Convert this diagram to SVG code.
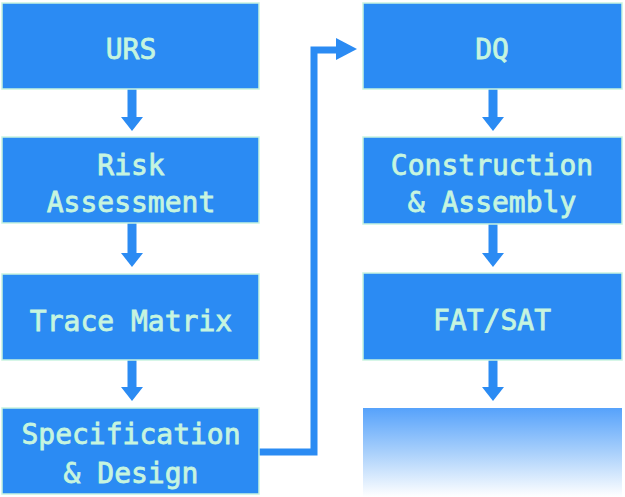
<svg xmlns="http://www.w3.org/2000/svg" width="625" height="497" viewBox="0 0 625 497">
<style>
.box{fill:#2b8bf3;stroke:#c9f3df;stroke-width:1.5}
.lbl{font-family:"DejaVu Sans Mono","Liberation Mono",monospace;font-size:28px;font-weight:normal;fill:#c6f5df;stroke:#c6f5df;stroke-width:0.8;text-anchor:middle}
.conn{fill:none;stroke:#2b8bf3;stroke-width:7}
.head{fill:#2b8bf3}
</style>
<defs>
<linearGradient id="fade" x1="0" y1="0" x2="0" y2="1">
<stop offset="0" stop-color="#56a2fb"/>
<stop offset="0.5" stop-color="#a9d0fb"/>
<stop offset="1" stop-color="#ffffff"/>
</linearGradient>
</defs>
<rect width="625" height="497" fill="#ffffff"/>
<g id="connectors">
<line class="conn" x1="132" y1="89" x2="132" y2="118" style="stroke-width:9"/>
<polygon class="head" points="121,117 143,117 132,131"/>
<line class="conn" x1="132" y1="223" x2="132" y2="254" style="stroke-width:9"/>
<polygon class="head" points="121,253 143,253 132,267"/>
<line class="conn" x1="132" y1="360" x2="132" y2="388" style="stroke-width:9"/>
<polygon class="head" points="121,387 143,387 132,401"/>
<line class="conn" x1="493" y1="89" x2="493" y2="118" style="stroke-width:9"/>
<polygon class="head" points="482,117 504,117 493,131"/>
<line class="conn" x1="493" y1="224" x2="493" y2="254" style="stroke-width:9"/>
<polygon class="head" points="482,253 504,253 493,267"/>
<line class="conn" x1="493" y1="360" x2="493" y2="388" style="stroke-width:9"/>
<polygon class="head" points="482,387 504,387 493,401"/>
<polyline class="conn" points="259,452 314,452 314,50 338,50"/>
<polygon class="head" points="336,38 336,60 357,49"/>
</g>
<g id="urs"><rect class="box" x="2" y="3" width="257" height="86"/><text class="lbl" x="131" y="59">URS</text></g>
<g id="risk"><rect class="box" x="2" y="137" width="257" height="86"/><text class="lbl" x="131" y="175">Risk</text><text class="lbl" x="131" y="212">Assessment</text></g>
<g id="trace"><rect class="box" x="2" y="274" width="257" height="86"/><text class="lbl" x="131" y="331">Trace Matrix</text></g>
<g id="spec"><rect class="box" x="2" y="408" width="257" height="86"/><text class="lbl" x="131" y="444">Specification</text><text class="lbl" x="131" y="483">&amp; Design</text></g>
<g id="dq"><rect class="box" x="363" y="3" width="259" height="86"/><text class="lbl" x="492" y="59">DQ</text></g>
<g id="construction"><rect class="box" x="363" y="137" width="259" height="87"/><text class="lbl" x="492" y="175">Construction</text><text class="lbl" x="492" y="212">&amp; Assembly</text></g>
<g id="fatsat"><rect class="box" x="363" y="273" width="259" height="87"/><text class="lbl" x="492" y="330">FAT/SAT</text></g>
<g id="next"><rect x="363" y="408" width="259" height="89" fill="url(#fade)"/></g>
</svg>
